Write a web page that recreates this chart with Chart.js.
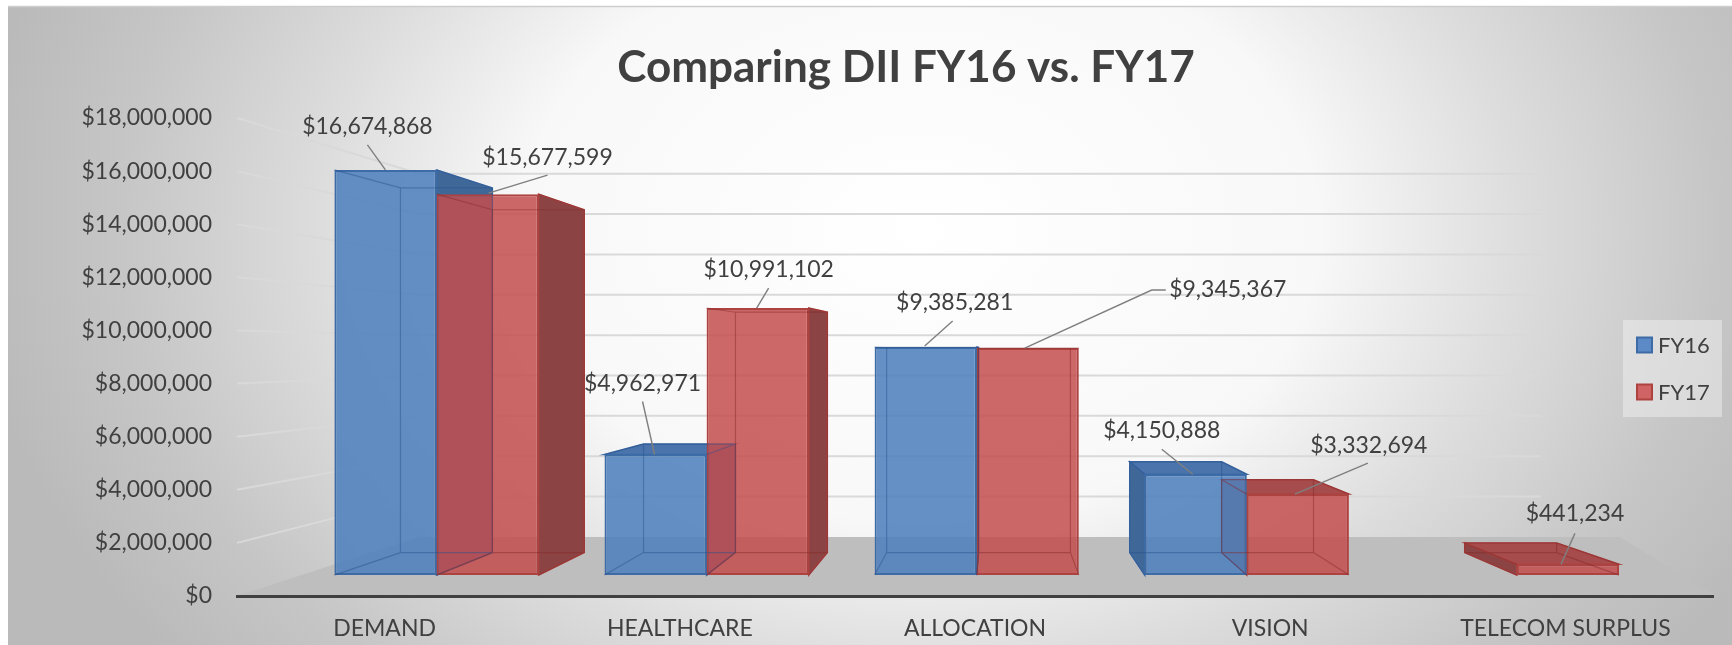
<!DOCTYPE html>
<html><head><meta charset="utf-8">
<script src="https://cdn.jsdelivr.net/npm/chart.js@4/dist/chart.umd.min.js"></script>
<style>html,body{margin:0;padding:0;background:#fff}canvas{display:block}</style>
</head><body>
<canvas id="c" width="1732" height="645"></canvas>
<script>
// ---------- data ----------
const categories = ['DEMAND', 'HEALTHCARE', 'ALLOCATION', 'VISION', 'TELECOM SURPLUS'];
const seriesNames = ['FY16', 'FY17'];
const fy16Values = [16674868, 4962971, 9385281, 4150888, null];
const fy17Values = [15677599, 10991102, 9345367, 3332694, 441234];
const yTickValues = [0, 2000000, 4000000, 6000000, 8000000, 10000000, 12000000, 14000000, 16000000, 18000000];
const titleText = 'Comparing DII FY16 vs. FY17';

// ---------- layout / style ----------
const AREA = {left: 237, right: 1713, top: 118, bottom: 596};
const VP = {x: 995, y: 350};          // vanishing point of the 3-D view
const FRONT_K = 0.915, BACK_K = 0.9, WALL_K = 0.76, FLOOR_RIGHT_K = 0.87;
const FONT = 'Lato, "Open Sans", sans-serif';
const TEXT = '#404040';
const TITLE_POS = {x: 906, y: 68};
const STYLE = {
  FY16: {front: 'rgba(79,129,189,0.88)', border: '#3d6ba6', side: '#3f6798', top: '#4a74ab', edge: 'rgba(40,80,140,0.45)', legend: '#5b8ac6'},
  FY17: {front: 'rgba(196,78,78,0.85)', border: '#ad4341', side: '#8c4343', top: '#a64c4c', edge: 'rgba(130,40,40,0.45)', legend: '#d06464'}
};
const LABEL_PLACEMENT = {
  FY16: [
    {at: [-18, -43], leader: [[-18, -25], [0, 0]]},
    {at: [-13, -71], leader: [[-13, -53], [-1, 0]]},
    {at: [29, -44], leader: [[27, -26], [-1, -1]]},
    {at: [-34, -44], leader: [[-34, -25], [-3, 0]]},
    null
  ],
  FY17: [
    {at: [60, -37], leader: [[60, -19], [1, -1]]},
    {at: [11, -38], leader: [[11, -20], [-1, 0]]},
    {at: [200, -58], leader: [[138, -58], [124, -58], [-3, 0]]},
    {at: [71, -49], leader: [[70, -31], [-3, 0]]},
    {at: [7, -51], leader: [[7, -31], [-7, 0]]}
  ]
};

// front plane scales (perspective of the bars' front faces)
const yMax = yTickValues[yTickValues.length - 1];
const pxPerVal = (AREA.bottom - AREA.top) / yMax;
const Cy = VP.y * (1 - FRONT_K) + FRONT_K * AREA.bottom;
const Dy = FRONT_K * pxPerVal;
const yBarMin = (Cy - AREA.bottom) / Dy, yBarMax = (Cy - AREA.top) / Dy;
const catW = (AREA.right - AREA.left) / categories.length;
const Ax = VP.x * (1 - FRONT_K) + FRONT_K * (AREA.left + catW / 2);
const Bx = FRONT_K * catW;
const xBarMin = (AREA.left - Ax) / Bx, xBarMax = (AREA.right - Ax) / Bx;

const fmt = v => '$' + Number(v).toLocaleString('en-US');
const toPoints = vals => vals.map((v, i) => ({x: i, y: v}));
const seriesValues = [fy16Values, fy17Values];

function poly(ctx, pts, fill, stroke, lw) {
  ctx.beginPath();
  pts.forEach((p, i) => i ? ctx.lineTo(p[0], p[1]) : ctx.moveTo(p[0], p[1]));
  ctx.closePath();
  if (fill) { ctx.fillStyle = fill; ctx.fill(); }
  if (stroke) { ctx.strokeStyle = stroke; ctx.lineWidth = lw || 1.5; ctx.stroke(); }
}
function geom(el) {
  const p = el.getProps(['x', 'y', 'base', 'width'], true);
  const L = p.x - p.width / 2, R = p.x + p.width / 2;
  const T = Math.min(p.y, p.base), B = Math.max(p.y, p.base);
  const bx = v => VP.x + BACK_K * (v - VP.x), by = v => VP.y + BACK_K * (v - VP.y);
  return {L, R, T, B, L2: bx(L), R2: bx(R), T2: by(T), B2: by(B), cx: p.x};
}
function eachBar(chart, fn) {
  chart.data.datasets.forEach((ds, di) => {
    const meta = chart.getDatasetMeta(di);
    meta.data.forEach((el, i) => {
      if (seriesValues[di][i] === null || seriesValues[di][i] === undefined) return;
      fn(el, ds, di, i);
    });
  });
}

const scene3d = {
  id: 'scene3d',
  beforeDraw(chart) {
    const ctx = chart.ctx;
    ctx.save();
    ctx.fillStyle = '#ffffff';
    ctx.fillRect(0, 0, chart.width, chart.height);
    // background
    ctx.save();
    ctx.beginPath(); ctx.rect(8, 7, chart.width - 8, chart.height - 7); ctx.clip();
    ctx.translate(920, 230); ctx.scale(1, 0.73);
    const g = ctx.createRadialGradient(0, 0, 0, 0, 0, 950);
    g.addColorStop(0, '#ffffff'); g.addColorStop(0.42, '#f8f8f8');
    g.addColorStop(0.63, '#dddddd'); g.addColorStop(0.84, '#c6c6c6'); g.addColorStop(1, '#bababa');
    ctx.fillStyle = g; ctx.fillRect(-1200, -1200, 2600, 2600);
    ctx.restore();
    ctx.strokeStyle = '#cdcdcd'; ctx.lineWidth = 1.5;
    ctx.beginPath(); ctx.moveTo(8, 6.5); ctx.lineTo(chart.width, 6.5); ctx.stroke();
    // wall gridlines
    const ys = chart.scales.y;
    const xWL = VP.x + WALL_K * (AREA.left - VP.x), xWR = VP.x + WALL_K * (AREA.right - VP.x);
    ctx.strokeStyle = '#d9d9d9'; ctx.lineWidth = 2;
    ys.ticks.forEach(t => {
      if (t.value <= 0) return;
      const yL = ys.getPixelForValue(t.value);
      const yW = VP.y + WALL_K * (yL - VP.y);
      ctx.beginPath(); ctx.moveTo(AREA.left, yL); ctx.lineTo(xWL, yW); ctx.lineTo(xWR, yW); ctx.stroke();
    });
    // floor
    const y0 = ys.getPixelForValue(0);
    const yb = VP.y + WALL_K * (y0 - VP.y);
    const fR = VP.x + FLOOR_RIGHT_K * (AREA.right - VP.x);
    poly(ctx, [[AREA.left, y0], [AREA.right + 3, y0], [fR, yb], [xWL, yb]], '#bebebe');
    // title
    ctx.fillStyle = TEXT;
    ctx.font = 'bold 44px ' + FONT;
    ctx.textAlign = 'center'; ctx.textBaseline = 'middle';
    ctx.fillText(titleText, TITLE_POS.x, TITLE_POS.y);
    ctx.restore();
  },
  beforeDatasetsDraw(chart) {
    const ctx = chart.ctx;
    ctx.save();
    eachBar(chart, (el, ds, di) => {
      const s = STYLE[ds.label], g = geom(el);
      if (g.R < VP.x) poly(ctx, [[g.R, g.T], [g.R2, g.T2], [g.R2, g.B2], [g.R, g.B]], s.side, s.border, 1.5);
      if (g.L > VP.x) poly(ctx, [[g.L, g.T], [g.L2, g.T2], [g.L2, g.B2], [g.L, g.B]], s.side, s.border, 1.5);
      if (g.T > VP.y) poly(ctx, [[g.L, g.T], [g.R, g.T], [g.R2, g.T2], [g.L2, g.T2]], s.top, s.border, 1.5);
    });
    ctx.restore();
  },
  afterDatasetsDraw(chart) {
    const ctx = chart.ctx;
    ctx.save();
    // see-through back edges
    eachBar(chart, (el, ds) => {
      const s = STYLE[ds.label], g = geom(el);
      ctx.strokeStyle = s.edge; ctx.lineWidth = 1.2;
      ctx.beginPath();
      ctx.moveTo(g.L2, g.T2); ctx.lineTo(g.R2, g.T2); ctx.lineTo(g.R2, g.B2); ctx.lineTo(g.L2, g.B2); ctx.closePath();
      ctx.moveTo(g.L, g.T); ctx.lineTo(g.L2, g.T2);
      ctx.moveTo(g.R, g.T); ctx.lineTo(g.R2, g.T2);
      ctx.moveTo(g.L, g.B); ctx.lineTo(g.L2, g.B2);
      ctx.moveTo(g.R, g.B); ctx.lineTo(g.R2, g.B2);
      ctx.stroke();
    });
    // data labels with leader lines
    ctx.font = '23px ' + FONT;
    ctx.textAlign = 'center'; ctx.textBaseline = 'middle';
    eachBar(chart, (el, ds, di, i) => {
      const place = LABEL_PLACEMENT[ds.label][i];
      if (!place) return;
      const p = el.getProps(['x', 'y'], true);
      ctx.strokeStyle = '#7f7f7f'; ctx.lineWidth = 1.4;
      ctx.beginPath();
      place.leader.forEach((q, k) => k ? ctx.lineTo(p.x + q[0], p.y + q[1]) : ctx.moveTo(p.x + q[0], p.y + q[1]));
      ctx.stroke();
      ctx.fillStyle = TEXT;
      ctx.fillText(fmt(seriesValues[di][i]), p.x + place.at[0], p.y + place.at[1]);
    });
    ctx.restore();
  },
  afterDraw(chart) {
    // legend
    const ctx = chart.ctx;
    ctx.save();
    ctx.fillStyle = 'rgba(245,245,245,0.45)';
    ctx.fillRect(1623, 320, 99, 97);
    ctx.font = '22px ' + FONT; ctx.textAlign = 'left'; ctx.textBaseline = 'middle';
    chart.data.datasets.forEach((ds, di) => {
      const s = STYLE[ds.label];
      const cy = 345 + di * 47;
      ctx.fillStyle = s.legend; ctx.fillRect(1637, cy - 7.5, 15, 15);
      ctx.strokeStyle = s.border; ctx.lineWidth = 2; ctx.strokeRect(1637, cy - 7.5, 15, 15);
      ctx.fillStyle = TEXT; ctx.fillText(ds.label, 1658, cy + 1);
    });
    ctx.restore();
  }
};

Chart.defaults.font.family = FONT;
new Chart(document.getElementById('c'), {
  type: 'bar',
  data: {
    labels: categories,
    datasets: seriesNames.map((name, di) => ({
      label: name,
      data: toPoints(seriesValues[di]),
      backgroundColor: STYLE[name].front,
      borderColor: STYLE[name].border,
      borderWidth: 2,
      borderSkipped: false,
      xAxisID: 'xBar',
      yAxisID: 'yBar',
      categoryPercentage: 0.756,
      barPercentage: 1
    }))
  },
  options: {
    responsive: false,
    animation: false,
    devicePixelRatio: 1,
    events: [],
    layout: {padding: {left: 0, right: 1732 - AREA.right, top: AREA.top, bottom: 0}},
    plugins: {
      legend: {display: false},
      tooltip: {enabled: false},
      title: {display: false}
    },
    scales: {
      x: {
        type: 'category', position: 'bottom', offset: true,
        grid: {display: false, drawTicks: false},
        border: {display: true, color: '#404040', width: 3},
        ticks: {color: TEXT, font: {size: 23}, padding: 19, maxRotation: 0, autoSkip: false},
        afterFit: s => { s.height = 645 - AREA.bottom; }
      },
      y: {
        type: 'linear', position: 'left', min: 0, max: yMax,
        grid: {display: false, drawTicks: false},
        border: {display: false},
        afterBuildTicks: s => { s.ticks = yTickValues.map(v => ({value: v})); },
        ticks: {color: TEXT, font: {size: 23}, padding: 25, callback: v => fmt(v)},
        afterFit: s => { s.width = AREA.left; }
      },
      xBar: {
        type: 'linear', display: false, bounds: 'data', min: xBarMin, max: xBarMax, offset: false, grid: {offset: false},
        afterBuildTicks: s => { s.ticks = categories.map((c, i) => ({value: i})); }
      },
      yBar: {type: 'linear', display: false, bounds: 'data', min: yBarMin, max: yBarMax, position: 'left'}
    }
  },
  plugins: [scene3d]
});
</script>
</body></html>
